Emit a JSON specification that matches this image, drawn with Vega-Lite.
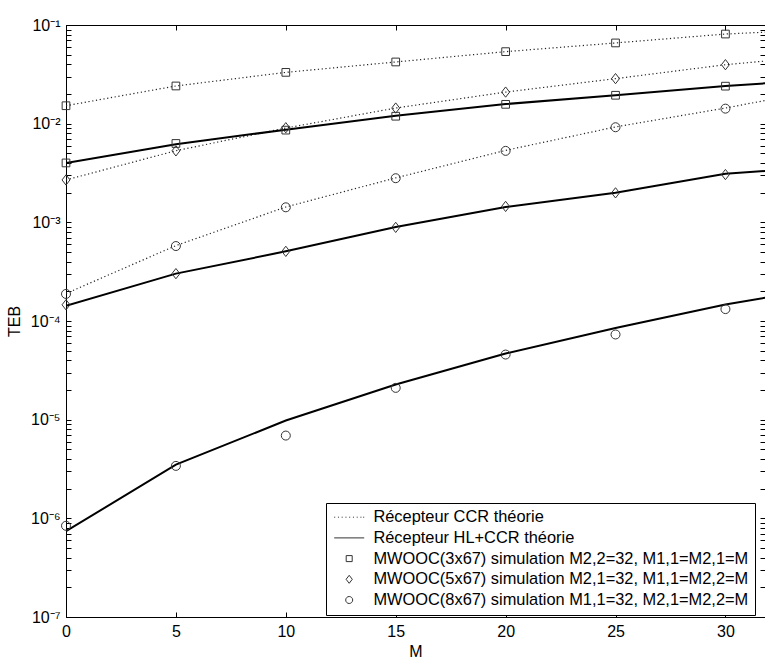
{
  "$schema": "https://vega.github.io/schema/vega-lite/v6.json",
  "autosize": {"type": "none"},
  "padding": {"left": 66, "top": 25, "right": 0, "bottom": 42},
  "width": 699,
  "height": 592,
  "background": "white",
  "config": {
    "view": {"stroke": "black", "strokeWidth": 1},
    "font": "Liberation Sans",
    "axis": {"grid": false, "domainColor": "black", "tickColor": "black", "labelColor": "black", "titleColor": "black", "labelFont": "Liberation Sans", "titleFont": "Liberation Sans", "labelFontSize": 16, "titleFontSize": 16, "titleFontWeight": "normal", "tickSize": -5}
  },
  "datasets": {
    "theory": [
      {"M": 0, "TEB": 0.0152, "series": "CCR 3x67", "type": "CCR"},
      {"M": 5, "TEB": 0.0241, "series": "CCR 3x67", "type": "CCR"},
      {"M": 10, "TEB": 0.0331, "series": "CCR 3x67", "type": "CCR"},
      {"M": 15, "TEB": 0.0422, "series": "CCR 3x67", "type": "CCR"},
      {"M": 20, "TEB": 0.0537, "series": "CCR 3x67", "type": "CCR"},
      {"M": 25, "TEB": 0.0658, "series": "CCR 3x67", "type": "CCR"},
      {"M": 30, "TEB": 0.081, "series": "CCR 3x67", "type": "CCR"},
      {"M": 32, "TEB": 0.085, "series": "CCR 3x67", "type": "CCR"},
      {"M": 0, "TEB": 0.00269, "series": "CCR 5x67", "type": "CCR"},
      {"M": 5, "TEB": 0.00532, "series": "CCR 5x67", "type": "CCR"},
      {"M": 10, "TEB": 0.00903, "series": "CCR 5x67", "type": "CCR"},
      {"M": 15, "TEB": 0.0144, "series": "CCR 5x67", "type": "CCR"},
      {"M": 20, "TEB": 0.0209, "series": "CCR 5x67", "type": "CCR"},
      {"M": 25, "TEB": 0.0286, "series": "CCR 5x67", "type": "CCR"},
      {"M": 30, "TEB": 0.0396, "series": "CCR 5x67", "type": "CCR"},
      {"M": 32, "TEB": 0.0435, "series": "CCR 5x67", "type": "CCR"},
      {"M": 0, "TEB": 0.00019, "series": "CCR 8x67", "type": "CCR"},
      {"M": 5, "TEB": 0.000581, "series": "CCR 8x67", "type": "CCR"},
      {"M": 10, "TEB": 0.00143, "series": "CCR 8x67", "type": "CCR"},
      {"M": 15, "TEB": 0.00282, "series": "CCR 8x67", "type": "CCR"},
      {"M": 20, "TEB": 0.00536, "series": "CCR 8x67", "type": "CCR"},
      {"M": 25, "TEB": 0.00927, "series": "CCR 8x67", "type": "CCR"},
      {"M": 30, "TEB": 0.0144, "series": "CCR 8x67", "type": "CCR"},
      {"M": 32, "TEB": 0.0175, "series": "CCR 8x67", "type": "CCR"},
      {"M": 0, "TEB": 0.0040, "series": "HL 3x67", "type": "HL"},
      {"M": 5, "TEB": 0.0062, "series": "HL 3x67", "type": "HL"},
      {"M": 10, "TEB": 0.00869, "series": "HL 3x67", "type": "HL"},
      {"M": 15, "TEB": 0.01205, "series": "HL 3x67", "type": "HL"},
      {"M": 20, "TEB": 0.0158, "series": "HL 3x67", "type": "HL"},
      {"M": 25, "TEB": 0.0194, "series": "HL 3x67", "type": "HL"},
      {"M": 30, "TEB": 0.0241, "series": "HL 3x67", "type": "HL"},
      {"M": 32, "TEB": 0.0258, "series": "HL 3x67", "type": "HL"},
      {"M": 0, "TEB": 0.000143, "series": "HL 5x67", "type": "HL"},
      {"M": 5, "TEB": 0.000302, "series": "HL 5x67", "type": "HL"},
      {"M": 10, "TEB": 0.000508, "series": "HL 5x67", "type": "HL"},
      {"M": 15, "TEB": 0.000898, "series": "HL 5x67", "type": "HL"},
      {"M": 20, "TEB": 0.00143, "series": "HL 5x67", "type": "HL"},
      {"M": 25, "TEB": 0.00199, "series": "HL 5x67", "type": "HL"},
      {"M": 30, "TEB": 0.00311, "series": "HL 5x67", "type": "HL"},
      {"M": 32, "TEB": 0.00334, "series": "HL 5x67", "type": "HL"},
      {"M": 0, "TEB": 7.4e-7, "series": "HL 8x67", "type": "HL"},
      {"M": 5, "TEB": 3.5e-6, "series": "HL 8x67", "type": "HL"},
      {"M": 10, "TEB": 9.8e-6, "series": "HL 8x67", "type": "HL"},
      {"M": 15, "TEB": 2.27e-5, "series": "HL 8x67", "type": "HL"},
      {"M": 20, "TEB": 4.68e-5, "series": "HL 8x67", "type": "HL"},
      {"M": 25, "TEB": 8.5e-5, "series": "HL 8x67", "type": "HL"},
      {"M": 30, "TEB": 0.000147, "series": "HL 8x67", "type": "HL"},
      {"M": 32, "TEB": 0.000175, "series": "HL 8x67", "type": "HL"}
    ],
    "sims": [
      {"M": 0, "TEB": 0.0152, "sim": "MWOOC(3x67) simulation M2,2=32, M1,1=M2,1=M"},
      {"M": 5, "TEB": 0.0241, "sim": "MWOOC(3x67) simulation M2,2=32, M1,1=M2,1=M"},
      {"M": 10, "TEB": 0.0331, "sim": "MWOOC(3x67) simulation M2,2=32, M1,1=M2,1=M"},
      {"M": 15, "TEB": 0.0422, "sim": "MWOOC(3x67) simulation M2,2=32, M1,1=M2,1=M"},
      {"M": 20, "TEB": 0.0537, "sim": "MWOOC(3x67) simulation M2,2=32, M1,1=M2,1=M"},
      {"M": 25, "TEB": 0.0658, "sim": "MWOOC(3x67) simulation M2,2=32, M1,1=M2,1=M"},
      {"M": 30, "TEB": 0.081, "sim": "MWOOC(3x67) simulation M2,2=32, M1,1=M2,1=M"},
      {"M": 0, "TEB": 0.0040, "sim": "MWOOC(3x67) simulation M2,2=32, M1,1=M2,1=M"},
      {"M": 5, "TEB": 0.0063, "sim": "MWOOC(3x67) simulation M2,2=32, M1,1=M2,1=M"},
      {"M": 10, "TEB": 0.0086, "sim": "MWOOC(3x67) simulation M2,2=32, M1,1=M2,1=M"},
      {"M": 15, "TEB": 0.0119, "sim": "MWOOC(3x67) simulation M2,2=32, M1,1=M2,1=M"},
      {"M": 20, "TEB": 0.0157, "sim": "MWOOC(3x67) simulation M2,2=32, M1,1=M2,1=M"},
      {"M": 25, "TEB": 0.0194, "sim": "MWOOC(3x67) simulation M2,2=32, M1,1=M2,1=M"},
      {"M": 30, "TEB": 0.0240, "sim": "MWOOC(3x67) simulation M2,2=32, M1,1=M2,1=M"},
      {"M": 0, "TEB": 0.00269, "sim": "MWOOC(5x67) simulation M2,1=32, M1,1=M2,2=M"},
      {"M": 5, "TEB": 0.0053, "sim": "MWOOC(5x67) simulation M2,1=32, M1,1=M2,2=M"},
      {"M": 10, "TEB": 0.0091, "sim": "MWOOC(5x67) simulation M2,1=32, M1,1=M2,2=M"},
      {"M": 15, "TEB": 0.0144, "sim": "MWOOC(5x67) simulation M2,1=32, M1,1=M2,2=M"},
      {"M": 20, "TEB": 0.0209, "sim": "MWOOC(5x67) simulation M2,1=32, M1,1=M2,2=M"},
      {"M": 25, "TEB": 0.0286, "sim": "MWOOC(5x67) simulation M2,1=32, M1,1=M2,2=M"},
      {"M": 30, "TEB": 0.0396, "sim": "MWOOC(5x67) simulation M2,1=32, M1,1=M2,2=M"},
      {"M": 0, "TEB": 0.000146, "sim": "MWOOC(5x67) simulation M2,1=32, M1,1=M2,2=M"},
      {"M": 5, "TEB": 0.000302, "sim": "MWOOC(5x67) simulation M2,1=32, M1,1=M2,2=M"},
      {"M": 10, "TEB": 0.000508, "sim": "MWOOC(5x67) simulation M2,1=32, M1,1=M2,2=M"},
      {"M": 15, "TEB": 0.000889, "sim": "MWOOC(5x67) simulation M2,1=32, M1,1=M2,2=M"},
      {"M": 20, "TEB": 0.00145, "sim": "MWOOC(5x67) simulation M2,1=32, M1,1=M2,2=M"},
      {"M": 25, "TEB": 0.00199, "sim": "MWOOC(5x67) simulation M2,1=32, M1,1=M2,2=M"},
      {"M": 30, "TEB": 0.00305, "sim": "MWOOC(5x67) simulation M2,1=32, M1,1=M2,2=M"},
      {"M": 0, "TEB": 0.000188, "sim": "MWOOC(8x67) simulation M1,1=32, M2,1=M2,2=M"},
      {"M": 5, "TEB": 0.000575, "sim": "MWOOC(8x67) simulation M1,1=32, M2,1=M2,2=M"},
      {"M": 10, "TEB": 0.00142, "sim": "MWOOC(8x67) simulation M1,1=32, M2,1=M2,2=M"},
      {"M": 15, "TEB": 0.0028, "sim": "MWOOC(8x67) simulation M1,1=32, M2,1=M2,2=M"},
      {"M": 20, "TEB": 0.0053, "sim": "MWOOC(8x67) simulation M1,1=32, M2,1=M2,2=M"},
      {"M": 25, "TEB": 0.0092, "sim": "MWOOC(8x67) simulation M1,1=32, M2,1=M2,2=M"},
      {"M": 30, "TEB": 0.0142, "sim": "MWOOC(8x67) simulation M1,1=32, M2,1=M2,2=M"},
      {"M": 0, "TEB": 8.4e-7, "sim": "MWOOC(8x67) simulation M1,1=32, M2,1=M2,2=M"},
      {"M": 5, "TEB": 3.4e-6, "sim": "MWOOC(8x67) simulation M1,1=32, M2,1=M2,2=M"},
      {"M": 10, "TEB": 6.9e-6, "sim": "MWOOC(8x67) simulation M1,1=32, M2,1=M2,2=M"},
      {"M": 15, "TEB": 2.1e-5, "sim": "MWOOC(8x67) simulation M1,1=32, M2,1=M2,2=M"},
      {"M": 20, "TEB": 4.57e-5, "sim": "MWOOC(8x67) simulation M1,1=32, M2,1=M2,2=M"},
      {"M": 25, "TEB": 7.3e-5, "sim": "MWOOC(8x67) simulation M1,1=32, M2,1=M2,2=M"},
      {"M": 30, "TEB": 0.000132, "sim": "MWOOC(8x67) simulation M1,1=32, M2,1=M2,2=M"}
    ]
  },
  "resolve": {"axis": {"x": "independent", "y": "independent"}},
  "layer": [
    {
      "data": {"name": "theory"},
      "transform": [{"filter": "datum.type === 'CCR'"}],
      "mark": {"type": "line", "clip": true, "color": "#222222", "strokeWidth": 1.2, "strokeDash": [1.2, 2.6]},
      "encoding": {
        "x": {"field": "M", "type": "quantitative", "scale": {"domain": [0, 31.8], "nice": false, "zero": false},
          "axis": {"orient": "bottom", "values": [0, 5, 10, 15, 20, 25, 30], "title": "M", "labelPadding": 11, "titlePadding": 4, "labelFlush": false, "domain": true}},
        "y": {"field": "TEB", "type": "quantitative", "scale": {"type": "log", "domain": [1e-7, 0.1], "nice": false},
          "axis": {"orient": "left", "title": "TEB", "labelPadding": 11, "titlePadding": 8,
            "values": [1e-7,2e-7,3e-7,4e-7,5e-7,6e-7,7e-7,8e-7,9e-7,1e-6,2e-6,3e-6,4e-6,5e-6,6e-6,7e-6,8e-6,9e-6,1e-5,2e-5,3e-5,4e-5,5e-5,6e-5,7e-5,8e-5,9e-5,1e-4,2e-4,3e-4,4e-4,5e-4,6e-4,7e-4,8e-4,9e-4,1e-3,2e-3,3e-3,4e-3,5e-3,6e-3,7e-3,8e-3,9e-3,1e-2,2e-2,3e-2,4e-2,5e-2,6e-2,7e-2,8e-2,9e-2,1e-1],
            "labelExpr": "abs(log(datum.value)/LN10 - round(log(datum.value)/LN10)) < 0.01 ? '10' + ['⁻⁷','⁻⁶','⁻⁵','⁻⁴','⁻³','⁻²','⁻¹'][round(log(datum.value)/LN10)+7] : ''",
            "labelFlush": false, "labelOverlap": false}},
        "detail": {"field": "series"}
      }
    },
    {
      "data": {"name": "theory"},
      "transform": [{"filter": "datum.type === 'HL'"}],
      "mark": {"type": "line", "clip": true, "color": "black", "strokeWidth": 2},
      "encoding": {
        "x": {"field": "M", "type": "quantitative", "axis": null},
        "y": {"field": "TEB", "type": "quantitative", "axis": null},
        "detail": {"field": "series"}
      }
    },
    {
      "data": {"name": "sims"},
      "mark": {"type": "point", "filled": false, "color": "#333333", "strokeWidth": 1, "size": 165, "opacity": 1},
      "encoding": {
        "x": {"field": "M", "type": "quantitative",
          "axis": {"orient": "top", "values": [0, 5, 10, 15, 20, 25, 30], "labels": false, "title": null, "domain": false}},
        "y": {"field": "TEB", "type": "quantitative",
          "axis": {"orient": "right", "labels": false, "title": null, "domain": false,
            "values": [1e-7,2e-7,3e-7,4e-7,5e-7,6e-7,7e-7,8e-7,9e-7,1e-6,2e-6,3e-6,4e-6,5e-6,6e-6,7e-6,8e-6,9e-6,1e-5,2e-5,3e-5,4e-5,5e-5,6e-5,7e-5,8e-5,9e-5,1e-4,2e-4,3e-4,4e-4,5e-4,6e-4,7e-4,8e-4,9e-4,1e-3,2e-3,3e-3,4e-3,5e-3,6e-3,7e-3,8e-3,9e-3,1e-2,2e-2,3e-2,4e-2,5e-2,6e-2,7e-2,8e-2,9e-2,1e-1]}},
        "shape": {"field": "sim", "type": "nominal",
          "scale": {
            "domain": ["Récepteur CCR théorie", "Récepteur HL+CCR théorie", "MWOOC(3x67) simulation M2,2=32, M1,1=M2,1=M", "MWOOC(5x67) simulation M2,1=32, M1,1=M2,2=M", "MWOOC(8x67) simulation M1,1=32, M2,1=M2,2=M"],
            "range": [
              "M-3,0h0.2M-2.25,0h0.2M-1.5,0h0.2M-0.75,0h0.2M0,0h0.2M0.75,0h0.2M1.5,0h0.2M2.25,0h0.2M2.8,0h0.2",
              "M-3,0H3",
              "M-0.6,-0.6H0.6V0.6H-0.6Z",
              "M0,-0.8L0.62,0L0,0.8L-0.62,0Z",
              "M0.7,0A0.7,0.7,0,1,1,-0.7,0A0.7,0.7,0,1,1,0.7,0Z"
            ]
          },
          "legend": {
            "orient": "none", "legendX": 260, "legendY": 478, "title": null,
            "strokeColor": "black", "fillColor": "white", "padding": 6, "rowPadding": 3.7,
            "labelFont": "Liberation Sans", "labelFontSize": 16.4, "labelColor": "black", "labelLimit": 0,
            "symbolSize": 100, "symbolStrokeColor": "#333333", "symbolFillColor": "transparent", "symbolStrokeWidth": 1,
            "symbolOffset": 9, "labelOffset": 16, "cornerRadius": 0,
            "encode": {"symbols": {"update": {"strokeWidth": {"signal": "datum.value === 'Récepteur HL+CCR théorie' ? 2 : 1"}, "stroke": {"value": "black"}}}}
          }
        }
      }
    }
  ]
}
